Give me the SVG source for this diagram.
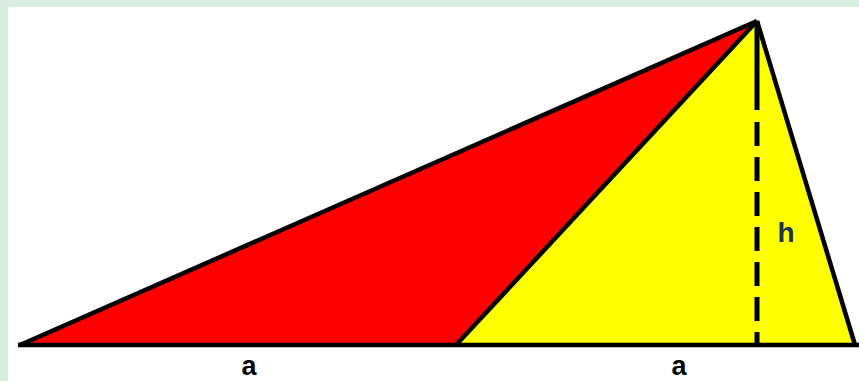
<svg xmlns="http://www.w3.org/2000/svg" width="859" height="381" viewBox="0 0 859 381">
<style>
.edge{stroke:#000;stroke-width:4.5;stroke-linejoin:miter;fill:none}
.lbl{font-family:"Liberation Sans",Arial,sans-serif;font-weight:bold}
</style>
<rect x="0" y="0" width="859" height="381" fill="#ffffff"/>
<rect x="0" y="0" width="859" height="7" fill="#d9efe0"/>
<rect x="0" y="0" width="8" height="381" fill="#d9efe0"/>
<g id="red-triangle">
<polygon points="20,345 456,345 757,21" fill="#ff0000"/>
</g>
<g id="yellow-triangle">
<polygon points="456,345 757,21 855,345" fill="#ffff00"/>
</g>
<g id="connectors">
<line class="edge" x1="20" y1="345" x2="757" y2="21"/>
<line class="edge" x1="456" y1="345" x2="757" y2="21"/>
<line class="edge" x1="757" y1="21" x2="855" y2="345"/>
<line class="edge" x1="18" y1="345" x2="859" y2="345"/>
<line x1="757" y1="21" x2="757" y2="110" stroke="#000" stroke-width="5"/>
<line x1="757" y1="122" x2="757" y2="345" stroke="#000" stroke-width="5" stroke-dasharray="24 11"/>
</g>
<g id="labels">
<text class="lbl" x="786" y="242" font-size="28" fill="#1f3050" text-anchor="middle">h</text>
<text class="lbl" x="249" y="375" font-size="27" fill="#000" text-anchor="middle">a</text>
<text class="lbl" x="679" y="375" font-size="27" fill="#000" text-anchor="middle">a</text>
</g>
</svg>
